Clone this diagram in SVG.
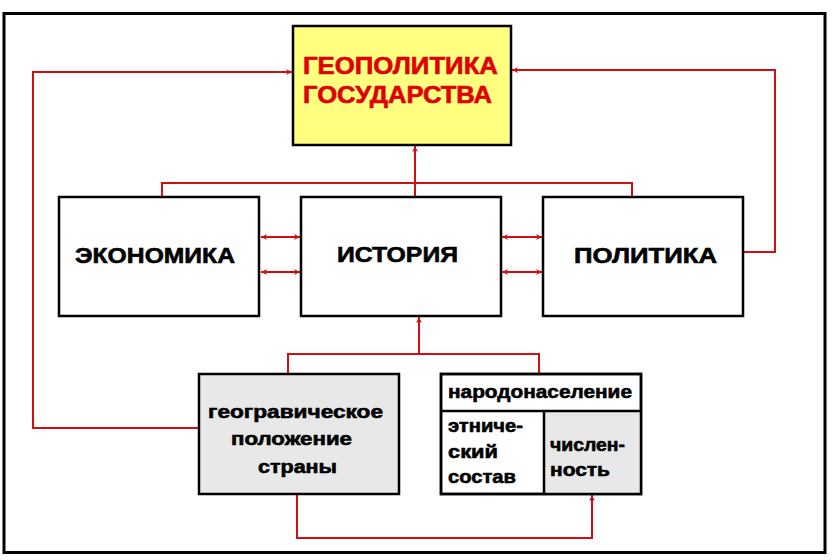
<svg xmlns="http://www.w3.org/2000/svg" width="836" height="560" viewBox="0 0 836 560">
<defs>
<marker id="ah" viewBox="0 0 10 10" refX="10" refY="5" markerWidth="7" markerHeight="6" markerUnits="userSpaceOnUse" orient="auto-start-reverse">
<path d="M0,0 L10,5 L0,10 L3,5 Z" fill="#d01010"/>
</marker>
<style>
.box{stroke:#000;stroke-width:2.5;fill:#fff}
.gray{fill:#e8e8e8}
.yel{fill:#ffff80}
.c{fill:none;stroke:#d01010;stroke-width:2}
.t{font-family:"Liberation Sans",Arial,sans-serif;font-weight:bold;fill:#000;stroke:#000;stroke-width:0.6}
.big{font-size:22px}
.red{fill:#e00000;stroke:#e00000;font-size:23px}
.sm{font-size:19px}
</style>
</defs>
<rect x="0" y="0" width="836" height="560" fill="#fff"/>
<rect x="4" y="13.5" width="821" height="539" fill="none" stroke="#000" stroke-width="3"/>

<g id="connectors">
<path class="c" d="M199,428 H33 V72 H292" marker-end="url(#ah)"/>
<path class="c" d="M743,252 H775 V70 H512" marker-end="url(#ah)"/>
<path class="c" d="M162,197 V183 H632 V197"/>
<path class="c" d="M415,197 V146" marker-end="url(#ah)"/>
<path class="c" d="M261,237 H300" marker-start="url(#ah)" marker-end="url(#ah)"/>
<path class="c" d="M261,272 H300" marker-start="url(#ah)" marker-end="url(#ah)"/>
<path class="c" d="M502,237 H542" marker-start="url(#ah)" marker-end="url(#ah)"/>
<path class="c" d="M502,272 H542" marker-start="url(#ah)" marker-end="url(#ah)"/>
<path class="c" d="M288,374 V354 H539 V374"/>
<path class="c" d="M419,354 V317" marker-end="url(#ah)"/>
<path class="c" d="M297,494 V538 H592 V495" marker-end="url(#ah)"/>
</g>

<g id="geopolitika">
<rect class="box yel" x="293" y="26" width="218" height="119"/>
<text class="t red" x="303" y="74" textLength="195" lengthAdjust="spacingAndGlyphs">ГЕОПОЛИТИКА</text>
<text class="t red" x="303" y="103" textLength="189" lengthAdjust="spacingAndGlyphs">ГОСУДАРСТВА</text>
</g>

<g id="ekonomika">
<rect class="box" x="59" y="197" width="200" height="119"/>
<text class="t big" x="75" y="263" textLength="160" lengthAdjust="spacingAndGlyphs">ЭКОНОМИКА</text>
</g>

<g id="istoriya">
<rect class="box" x="301" y="197" width="200" height="119"/>
<text class="t big" x="337" y="262" textLength="121" lengthAdjust="spacingAndGlyphs">ИСТОРИЯ</text>
</g>

<g id="politika">
<rect class="box" x="543" y="197" width="200" height="119"/>
<text class="t big" x="574" y="263" textLength="143" lengthAdjust="spacingAndGlyphs">ПОЛИТИКА</text>
</g>

<g id="geo">
<rect class="box gray" x="199" y="374" width="200" height="120"/>
<text class="t sm" x="208" y="418" textLength="175" lengthAdjust="spacingAndGlyphs">геогравическое</text>
<text class="t sm" x="231" y="445" textLength="121" lengthAdjust="spacingAndGlyphs">положение</text>
<text class="t sm" x="258" y="473" textLength="79" lengthAdjust="spacingAndGlyphs">страны</text>
</g>

<g id="narodonaselenie">
<rect class="box" x="441" y="374" width="200" height="120"/>
<rect x="544" y="411" width="97" height="83" fill="#e8e8e8"/>
<path d="M441,411 H641 M544,411 V494" stroke="#000" stroke-width="2.5" fill="none"/>
<rect x="441" y="374" width="200" height="120" fill="none" stroke="#000" stroke-width="2.5"/>
<text class="t sm" x="448" y="398" textLength="184" lengthAdjust="spacingAndGlyphs">народонаселение</text>
<text class="t sm" x="448" y="432" textLength="75" lengthAdjust="spacingAndGlyphs">этниче-</text>
<text class="t sm" x="448" y="458" textLength="50" lengthAdjust="spacingAndGlyphs">ский</text>
<text class="t sm" x="448" y="483" textLength="68" lengthAdjust="spacingAndGlyphs">состав</text>
<text class="t sm" x="550" y="451" textLength="75" lengthAdjust="spacingAndGlyphs">числен-</text>
<text class="t sm" x="550" y="476" textLength="60" lengthAdjust="spacingAndGlyphs">ность</text>
</g>
</svg>
